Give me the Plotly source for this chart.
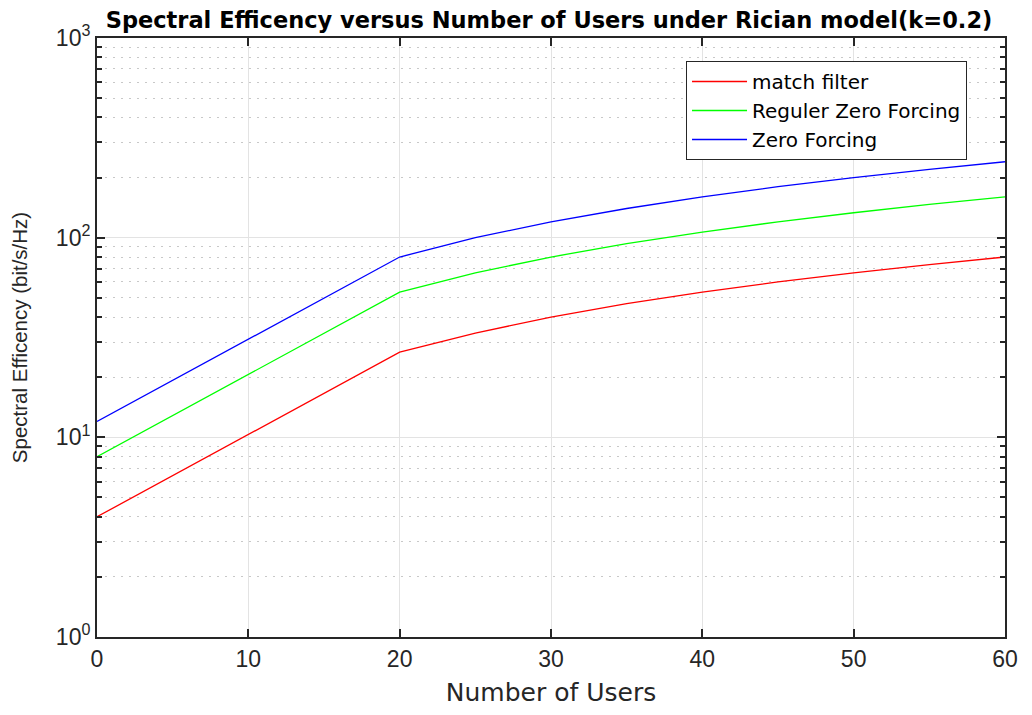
import plotly.graph_objects as go

users = [0, 20, 25, 30, 35, 40, 45, 50, 55, 60]
match_filter = [4.0, 26.7, 33.3, 40.0, 46.7, 53.3, 60.0, 66.7, 73.3, 80.0]
reg_zero_forcing = [8.0, 53.3, 66.7, 80.0, 93.3, 106.7, 120.0, 133.3, 146.7, 160.0]
zero_forcing = [12.0, 80.0, 100.0, 120.0, 140.0, 160.0, 180.0, 200.0, 220.0, 240.0]

x_ticks = [0, 10, 20, 30, 40, 50, 60]
y_ticks = [1, 10, 100, 1000]
y_ticktext = ["10<sup>0</sup>", "10<sup>1</sup>", "10<sup>2</sup>", "10<sup>3</sup>"]

fig = go.Figure()
fig.add_trace(go.Scatter(x=users, y=match_filter, mode="lines", name="match filter",
                         line=dict(color="#ff0000", width=1.3)))
fig.add_trace(go.Scatter(x=users, y=reg_zero_forcing, mode="lines", name="Reguler Zero Forcing",
                         line=dict(color="#00ff00", width=1.3)))
fig.add_trace(go.Scatter(x=users, y=zero_forcing, mode="lines", name="Zero Forcing",
                         line=dict(color="#0000ff", width=1.3)))

font_main = "Liberation Sans, Arial, sans-serif"
font_wide = "DejaVu Sans, Verdana, sans-serif"

W, H = 1016, 699
fig.update_layout(
    width=W, height=H,
    margin=dict(l=89, r=19, t=30, b=70),
    paper_bgcolor="white", plot_bgcolor="white",
    font=dict(family=font_main, color="#262626", size=23),
    title=dict(text="<b>Spectral Efficency versus Number of Users under Rician model(k=0.2)</b>",
               x=(549 - 8) / W, xanchor="center", y=1 - 12.5 / H, yanchor="middle",
               font=dict(family=font_wide, size=22.5, color="black")),
    showlegend=True,
    legend=dict(x=0.6487, y=0.9616, xanchor="left", yanchor="top",
                bgcolor="white", bordercolor="#262626", borderwidth=1,
                font=dict(family=font_wide, size=20, color="black"), tracegroupgap=0,
                itemwidth=55),
)

fig.update_xaxes(
    range=[0, 60], tickvals=x_ticks, ticks="inside", ticklen=8, tickwidth=1.5,
    tickcolor="#262626", showline=True, linecolor="#262626", linewidth=2, mirror="ticks",
    showgrid=True, gridcolor="#e3e3e3", gridwidth=1, zeroline=False, automargin=False,
    title=dict(text="Number of Users", font=dict(family=font_wide, size=25), standoff=16),
    tickfont=dict(size=23),
)
fig.update_yaxes(
    type="log", range=[0, 3], tickvals=y_ticks, ticktext=y_ticktext,
    ticks="inside", ticklen=8, tickwidth=1.5, tickcolor="#262626",
    showline=True, linecolor="#262626", linewidth=2, mirror="ticks",
    showgrid=True, gridcolor="#e3e3e3", gridwidth=1, zeroline=False, automargin=False,
    minor=dict(dtick="D1", ticks="inside", ticklen=5, tickcolor="#262626",
               showgrid=True, gridcolor="#c8c8c8", griddash="2px,6px", gridwidth=1),
    title=dict(text="Spectral Efficency (bit/s/Hz)", font=dict(size=20.5), standoff=28),
    tickfont=dict(size=23),
)

fig.write_html("out.html")
